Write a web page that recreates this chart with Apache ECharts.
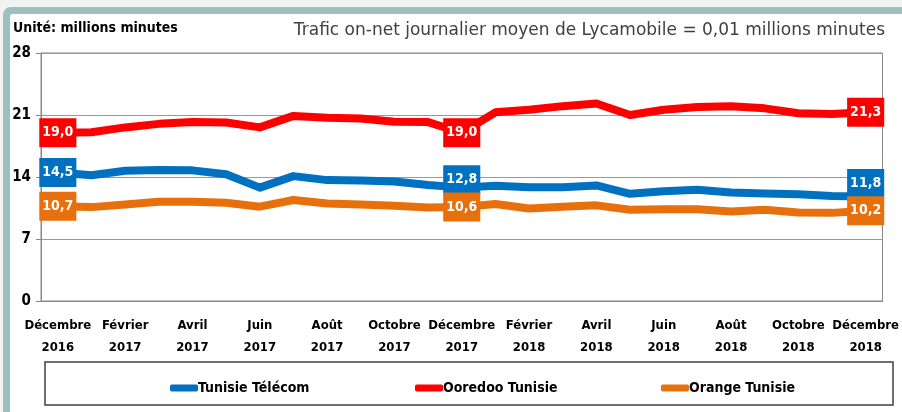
<!DOCTYPE html>
<html>
<head>
<meta charset="utf-8">
<script src="https://cdn.jsdelivr.net/npm/echarts@6/dist/echarts.min.js"></script>
<style>
    html, body { margin: 0; padding: 0; background: #fff; }
    #main { width: 902px; height: 412px; }
</style>
</head>
<body>
<div id="main"></div>
<script>
    // mois (un sur deux affiché)
    var categories = [
        'Décembre\n2016', 'Janvier\n2017', 'Février\n2017', 'Mars\n2017', 'Avril\n2017', 'Mai\n2017',
        'Juin\n2017', 'Juillet\n2017', 'Août\n2017', 'Septembre\n2017', 'Octobre\n2017', 'Novembre\n2017',
        'Décembre\n2017', 'Janvier\n2018', 'Février\n2018', 'Mars\n2018', 'Avril\n2018', 'Mai\n2018',
        'Juin\n2018', 'Juillet\n2018', 'Août\n2018', 'Septembre\n2018', 'Octobre\n2018', 'Novembre\n2018',
        'Décembre\n2018'
    ];
    var telecom = [14.5, 14.2, 14.7, 14.8, 14.75, 14.3, 12.8, 14.1, 13.65, 13.6, 13.5, 13.1, 12.8,
                   13.0, 12.85, 12.85, 13.05, 12.1, 12.4, 12.55, 12.25, 12.15, 12.05, 11.85, 11.8];
    var ooredoo = [19.0, 19.05, 19.6, 20.0, 20.2, 20.15, 19.6, 20.9, 20.7, 20.6, 20.25, 20.2, 19.0,
                   21.3, 21.6, 22.0, 22.3, 21.0, 21.6, 21.9, 22.0, 21.75, 21.2, 21.1, 21.3];
    var orange = [10.7, 10.6, 10.9, 11.2, 11.2, 11.1, 10.65, 11.4, 11.0, 10.9, 10.75, 10.55, 10.6,
                  10.95, 10.45, 10.65, 10.8, 10.3, 10.35, 10.35, 10.1, 10.3, 10.0, 9.95, 10.2];
    var yTicks = [0, 7, 14, 21, 28];
    var labelled = [0, 12, 24];

    var narrow = '"DejaVu Sans Condensed", "Liberation Sans Narrow", sans-serif';

    function withLabels(arr, color, offsets) {
        return arr.map(function (v, i) {
            var k = labelled.indexOf(i);
            if (k < 0) return v;
            return {
                value: v,
                label: {
                    show: true,
                    position: 'inside',
                    offset: offsets ? offsets[k] : [0, 0],
                    backgroundColor: color,
                    color: '#fff',
                    fontFamily: narrow,
                    fontWeight: 'bold',
                    fontSize: 14,
                    padding: [8, 3, 7, 3],
                    formatter: function (p) { return p.value.toFixed(1).replace('.', ','); }
                }
            };
        });
    }

    function serie(name, arr, color, offsets) {
        return {
            name: name,
            type: 'line',
            data: withLabels(arr, color, offsets),
            symbol: 'circle',
            symbolSize: 1,
            itemStyle: { color: color },
            lineStyle: { width: 8, color: color, join: 'round' },
            label: { show: false },
            emphasis: { disabled: true },
            animation: false
        };
    }

    function leg(name, left) {
        return {
            data: [name],
            left: left,
            top: 376,
            icon: 'roundRect',
            itemWidth: 28,
            itemHeight: 7,
            itemGap: 0,
            textStyle: { fontFamily: narrow, fontWeight: 'bold', fontSize: 14, color: '#000', padding: [0, 0, 0, -5] }
        };
    }

    var myChart = echarts.init(document.getElementById('main'));
    var option = {
        backgroundColor: '#fff',
        animation: false,
        graphic: [
            { type: 'rect', z: -20, shape: { x: 0, y: 0, width: 902, height: 412 }, style: { fill: '#f1f3f3' } },
            { type: 'rect', z: -19, shape: { x: 3, y: 7, width: 899, height: 405, r: [8, 0, 0, 0] }, style: { fill: '#9cc0bd' } },
            { type: 'rect', z: -18, shape: { x: 10, y: 14, width: 892, height: 398, r: [3, 0, 0, 0] }, style: { fill: '#fff' } },
            { type: 'rect', z: -17, shape: { x: 45, y: 362, width: 848, height: 43 }, style: { fill: 'none', stroke: '#404040', lineWidth: 1.5 } },
            { type: 'text', left: 13, top: 21, style: { text: 'Unité: millions minutes', fontFamily: narrow, fontWeight: 'bold', fontSize: 14, fill: '#000' } },
            { type: 'text', right: 17, top: 22, style: { text: 'Trafic on-net journalier moyen de Lycamobile = 0,01 millions minutes', fontFamily: '"DejaVu Sans", sans-serif', fontSize: 17, fill: '#404040' } }
        ],
        legend: [leg('Tunisie Télécom', 165), leg('Ooredoo Tunisie', 410), leg('Orange Tunisie', 656)],
        grid: {
            left: 41, right: 17, top: 53, bottom: 111,
            show: true, borderColor: '#888', borderWidth: 1
        },
        xAxis: {
            type: 'category',
            data: categories,
            boundaryGap: true,
            axisLine: { lineStyle: { color: '#888' } },
            axisTick: { interval: 0, length: 5, lineStyle: { color: '#888' } },
            axisLabel: {
                interval: 1,
                fontFamily: narrow, fontWeight: 'bold', fontSize: 13, color: '#000',
                lineHeight: 22, margin: 14
            }
        },
        yAxis: {
            type: 'value',
            min: yTicks[0],
            max: yTicks[yTicks.length - 1],
            interval: 7,
            axisLine: { show: true, lineStyle: { color: '#888' } },
            axisTick: { show: true, length: 5, lineStyle: { color: '#888' } },
            splitLine: { lineStyle: { color: '#999' } },
            axisLabel: { fontFamily: narrow, fontWeight: 'bold', fontSize: 15, color: '#000', margin: 10 }
        },
        series: [
            serie('Tunisie Télécom', telecom, '#0070C0', [[0, 0], [0, -8], [0, -13]]),
            serie('Ooredoo Tunisie', ooredoo, '#FF0000'),
            serie('Orange Tunisie', orange, '#E8700C')
        ]
    };
    myChart.setOption(option, true);
</script>
</body>
</html>
